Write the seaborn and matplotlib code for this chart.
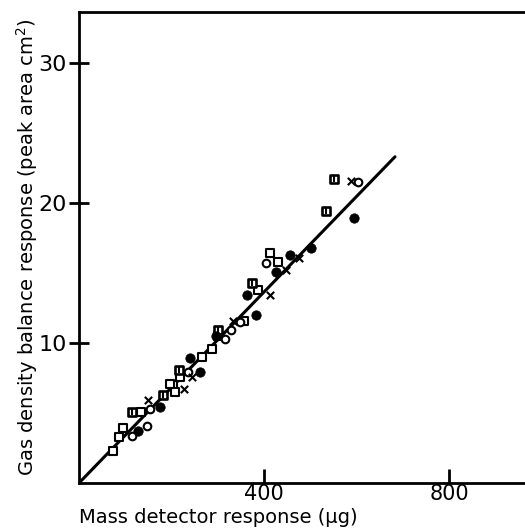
import matplotlib
matplotlib.use("Agg")
import matplotlib.pyplot as plt
import seaborn as sns
import pandas as pd

# --- data ---
sq_open_x = [74, 96, 87, 135, 204, 208, 218, 265, 287, 301, 413, 431, 386, 357, 197]
sq_open_y = [2.3, 3.95, 3.3, 5.1, 7.0, 6.5, 7.6, 9.0, 9.6, 10.5, 16.4, 15.8, 13.8, 11.6, 7.1]

sq_cross_x = [114, 182, 217, 300, 375, 533, 551]
sq_cross_y = [5.1, 6.3, 8.1, 10.9, 14.3, 19.4, 21.7]

circ_fill_x = [128, 175, 240, 262, 296, 363, 383, 426, 456, 501, 595]
circ_fill_y = [3.7, 5.4, 8.9, 7.95, 10.5, 13.4, 12.0, 15.1, 16.3, 16.8, 18.9]

circ_open_x = [114, 146, 153, 236, 316, 328, 348, 404, 604]
circ_open_y = [3.35, 4.1, 5.3, 7.95, 10.3, 10.9, 11.5, 15.7, 21.5]

cross_x = [150, 226, 244, 332, 412, 448, 476, 588]
cross_y = [5.9, 6.7, 7.55, 11.6, 13.4, 15.2, 16.1, 21.6]

line_x = [0, 683]
line_y = [0, 23.3]

x_ticks = [400, 800]
y_ticks = [10, 20, 30]
x_label = "Mass detector response (\u03bcg)"
y_label = "Gas density balance response (peak area cm$^2$)"

sns.set_style("ticks")
plt.rcParams['font.family'] = ['DejaVu Sans']
plt.rcParams['mathtext.fontset'] = 'dejavusans'
plt.rcParams['text.color'] = 'black'
plt.rcParams['axes.labelcolor'] = 'black'
plt.rcParams['xtick.color'] = 'black'
plt.rcParams['ytick.color'] = 'black'

fig = plt.figure(figsize=(5.25, 5.29), dpi=100)
ax = fig.add_axes([79 / 525, 46 / 529, 1 - 79 / 525, (483 - 12) / 529])

sns.lineplot(x=line_x, y=line_y, ax=ax, color="black", linewidth=2.2)

sns.scatterplot(x=sq_open_x, y=sq_open_y, ax=ax, marker="s", s=30,
                facecolor="white", edgecolor="black", linewidth=1.5, zorder=3)
sns.scatterplot(x=sq_cross_x, y=sq_cross_y, ax=ax, marker="s", s=32,
                facecolor="white", edgecolor="black", linewidth=1.9, zorder=3)
sns.scatterplot(x=sq_cross_x, y=sq_cross_y, ax=ax, marker="|", s=14,
                color="black", linewidth=1.5, zorder=4)
sns.scatterplot(x=circ_fill_x, y=circ_fill_y, ax=ax, marker="o", s=46,
                color="black", edgecolor="black", linewidth=0.5, zorder=3)
sns.scatterplot(x=circ_open_x, y=circ_open_y, ax=ax, marker="o", s=30,
                facecolor="white", edgecolor="black", linewidth=1.5, zorder=3)
sns.scatterplot(x=cross_x, y=cross_y, ax=ax, marker="x", s=28,
                color="black", linewidth=1.5, zorder=3)

ax.set_xlim(0, 964)
ax.set_ylim(0, 33.64)
ax.set_xticks(x_ticks)
ax.set_yticks(y_ticks)
ax.set_xticklabels([str(v) for v in x_ticks], fontsize=15)
ax.set_yticklabels([str(v) for v in y_ticks], fontsize=16)
ax.tick_params(axis="x", direction="in", length=10, width=2, pad=1, colors="black")
ax.tick_params(axis="y", direction="inout", length=14, width=2, pad=2, colors="black")

for side in ["left", "bottom", "top"]:
    ax.spines[side].set_linewidth(2)
    ax.spines[side].set_color("black")
ax.spines["right"].set_visible(False)

ax.set_xlabel(x_label, fontsize=14, loc="left", color="black")
ax.xaxis.set_label_coords(0.0, -0.054)
ax.set_ylabel(y_label, fontsize=14, color="black")
ax.yaxis.set_label_coords(-0.088, 0.5)

fig.savefig("out.png", dpi=100)
